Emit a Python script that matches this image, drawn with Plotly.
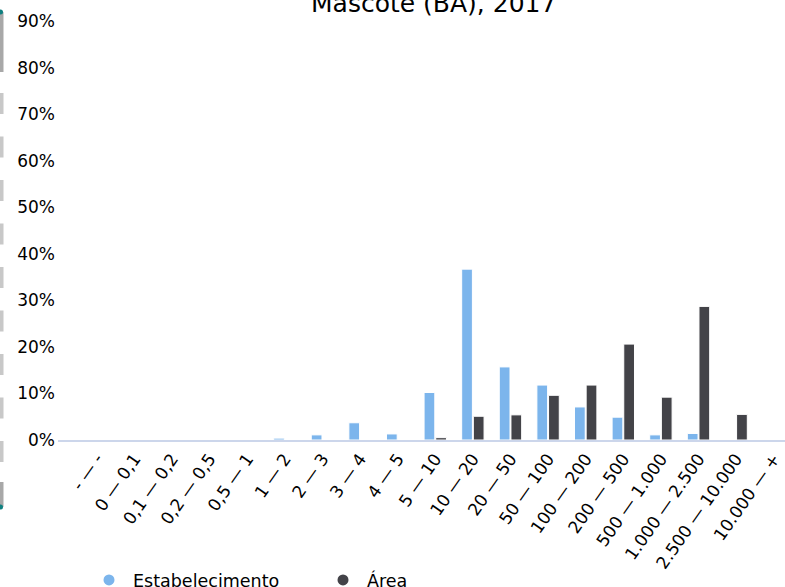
import plotly.graph_objects as go

categories = ["- — -", "0 — 0,1", "0,1 — 0,2", "0,2 — 0,5", "0,5 — 1", "1 — 2", "2 — 3",
              "3 — 4", "4 — 5", "5 — 10", "10 — 20", "20 — 50", "50 — 100", "100 — 200",
              "200 — 500", "500 — 1.000", "1.000 — 2.500", "2.500 — 10.000", "10.000 — +"]
estabelecimento = [0, 0, 0, 0, 0, 0.4, 1.1, 3.7, 1.3, 10.2, 36.7, 15.7, 11.8, 7.1, 4.9, 1.1, 1.4, 0, 0]
area = [0, 0, 0, 0, 0, 0, 0, 0, 0, 0.5, 5.1, 5.4, 9.6, 11.8, 20.6, 9.2, 28.7, 5.5, 0]
y_ticks = [0, 10, 20, 30, 40, 50, 60, 70, 80, 90]
y_tick_labels = [f"{v}%" for v in y_ticks]

C_EST = "#7cb5ec"
C_AREA = "#434348"
FONT = "DejaVu Sans"

W, H = 785, 587
PL, PR, PT, PB = 58, 785, 21, 440  # plot area pixels


def px(x):
    return (x - PL) / (PR - PL)


def py(y):
    return (PB - y) / (PB - PT)


fig = go.Figure()
fig.add_trace(go.Bar(x=categories, y=estabelecimento, name="Estabelecimento",
                     marker=dict(color=C_EST, line=dict(color="white", width=1)),
                     showlegend=False))
fig.add_trace(go.Bar(x=categories, y=area, name="Área",
                     marker=dict(color=C_AREA, line=dict(color="white", width=1)),
                     showlegend=False))
# legend entries with circular symbols
fig.add_trace(go.Scatter(x=[None], y=[None], mode="markers", name="Estabelecimento",
                         marker=dict(color=C_EST, size=11, symbol="circle")))
fig.add_trace(go.Scatter(x=[None], y=[None], mode="markers", name="Área",
                         marker=dict(color=C_AREA, size=11, symbol="circle")))

shapes = []
# left decorative scroll line
shapes.append(dict(type="line", xref="paper", yref="paper",
                   x0=px(1.5), x1=px(1.5), y0=py(93), y1=py(470),
                   line=dict(color="#c8c8c8", width=4, dash="21px,22.5px")))
shapes.append(dict(type="rect", xref="paper", yref="paper",
                   x0=px(-0.5), x1=px(3.5), y0=py(72), y1=py(12),
                   fillcolor="#a8a8a8", line=dict(width=0)))
shapes.append(dict(type="rect", xref="paper", yref="paper",
                   x0=px(-0.5), x1=px(3.5), y0=py(507), y1=py(482),
                   fillcolor="#a8a8a8", line=dict(width=0)))
for yy in (12, 507):
    shapes.append(dict(type="circle", xref="paper", yref="paper",
                       x0=px(-2), x1=px(3), y0=py(yy + 2.5), y1=py(yy - 2.5),
                       fillcolor="#108080", line=dict(width=0)))

fig.update_layout(
    width=W, height=H,
    margin=dict(l=PL, r=W - PR, t=PT, b=H - PB, pad=0, autoexpand=False),
    paper_bgcolor="white", plot_bgcolor="white",
    font=dict(family=FONT, size=17, color="#000000"),
    barmode="group", bargap=0.38, bargroupgap=0.08,
    xaxis=dict(type="category", range=[-1.032, 18.30], tickangle=-55, automargin=False,
               showgrid=False, zeroline=False, showline=True, linecolor="#ccd6eb",
               linewidth=2, ticks="", tickfont=dict(size=17, color="#000000")),
    yaxis=dict(range=[0, 90], tickvals=y_ticks, ticktext=y_tick_labels, automargin=False,
               showgrid=False, zeroline=False, showline=False, ticks="", ticklabelstandoff=2,
               tickfont=dict(size=17, color="#000000")),
    legend=dict(orientation="h", x=px(85), xanchor="left", y=py(580), yanchor="middle",
                entrywidth=181, entrywidthmode="pixels", itemwidth=38,
                font=dict(size=17.5, color="#000000"), bgcolor="rgba(0,0,0,0)"),
    shapes=shapes,
    annotations=[dict(text="Mascote (BA), 2017", xref="paper", yref="paper",
                      x=px(433), y=py(3.5), xanchor="center", yanchor="middle",
                      showarrow=False, font=dict(family=FONT, size=25, color="#000000"))],
)

fig.write_html("out.html", config={"displayModeBar": False},
               post_script="document.body.style.margin='0px';document.body.style.overflow='hidden';")
